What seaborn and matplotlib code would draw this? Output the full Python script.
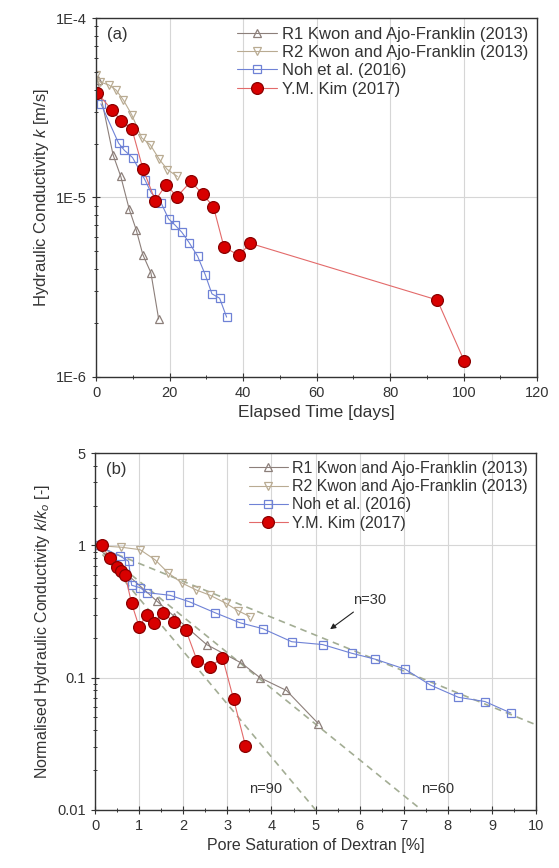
"""
Hydraulic conductivity decline with elapsed time (a) and with pore
saturation of dextran (b), comparing Kwon and Ajo-Franklin, Noh et al.
and Y.M. Kim data.
"""
import matplotlib
matplotlib.use("Agg")
import matplotlib.pyplot as plt
import matplotlib.ticker as mticker
import seaborn as sns

# ---- panel (a): hydraulic conductivity k [m/s] vs elapsed time [days]
r1_days = [0.4, 4.6, 6.7, 9.0, 10.9, 12.7, 14.9, 17.0]
r1_k = [4.5e-5, 1.73e-5, 1.31e-5, 8.6e-6, 6.6e-6, 4.8e-6, 3.8e-6, 2.1e-6]

r2_days = [0.0, 1.1, 3.4, 5.4, 7.4, 9.7, 12.4, 14.7, 17.2, 19.4, 22.1]
r2_k = [4.8e-5, 4.4e-5, 4.25e-5, 3.98e-5, 3.5e-5, 2.89e-5, 2.15e-5,
        1.97e-5, 1.63e-5, 1.43e-5, 1.31e-5]

noh_days = [1.3, 6.1, 7.7, 9.9, 13.3, 15.0, 17.7, 19.7, 21.5, 23.3, 25.3,
            27.6, 29.7, 31.5, 33.6, 35.5]
noh_k = [3.33e-5, 2.01e-5, 1.83e-5, 1.67e-5, 1.25e-5, 1.06e-5, 9.3e-6,
         7.6e-6, 7.0e-6, 6.4e-6, 5.6e-6, 4.7e-6, 3.7e-6, 2.9e-6, 2.74e-6,
         2.15e-6]

kim_days = [0.2, 4.3, 6.8, 9.7, 12.7, 16.1, 19.0, 22.0, 25.8, 29.0, 31.9,
            34.8, 38.9, 41.9, 92.8, 100.1]
kim_k = [3.85e-5, 3.08e-5, 2.68e-5, 2.42e-5, 1.45e-5, 9.6e-6, 1.18e-5,
         1.01e-5, 1.23e-5, 1.04e-5, 8.9e-6, 5.27e-6, 4.76e-6, 5.55e-6,
         2.68e-6, 1.23e-6]

# ---- panel (b): normalised conductivity k/k0 vs pore saturation [%]
r1_sat = [0.0, 1.4, 1.8, 2.53, 3.32, 3.74, 4.34, 5.06]
r1_norm = [1.0, 0.38, 0.29, 0.178, 0.129, 0.10, 0.08, 0.045]

r2_sat = [0.0, 0.6, 1.02, 1.36, 1.66, 1.97, 2.3, 2.61, 2.97, 3.25, 3.51]
r2_norm = [1.0, 0.97, 0.93, 0.78, 0.62, 0.52, 0.46, 0.42, 0.365, 0.32, 0.29]

noh_sat = [0.05, 0.57, 0.76, 0.83, 1.02, 1.17, 1.7, 2.14, 2.72, 3.29, 3.8,
           4.46, 5.16, 5.82, 6.35, 7.03, 7.6, 8.24, 8.84, 9.43]
noh_norm = [1.0, 0.83, 0.76, 0.50, 0.48, 0.44, 0.42, 0.375, 0.31, 0.26,
            0.235, 0.187, 0.178, 0.153, 0.138, 0.116, 0.088, 0.071, 0.066,
            0.054]

kim_sat = [0.15, 0.34, 0.49, 0.6, 0.68, 0.83, 1.0, 1.17, 1.34, 1.53, 1.79,
           2.06, 2.32, 2.61, 2.89, 3.14, 3.41]
kim_norm = [1.0, 0.80, 0.69, 0.64, 0.60, 0.365, 0.242, 0.30, 0.26, 0.31,
            0.265, 0.229, 0.133, 0.121, 0.142, 0.069, 0.0306]

# fitted trend lines (k/k0 = (1-S)^n), endpoints
fit_labels = ["n=30", "n=60", "n=90"]
fit_sat = [[0.0, 10.0], [0.0, 7.4], [0.0, 5.0]]
fit_norm = [[1.0, 0.044], [1.0, 0.01], [1.0, 0.01]]

legend_labels = ["R1 Kwon and Ajo-Franklin (2013)",
                 "R2 Kwon and Ajo-Franklin (2013)",
                 "Noh et al. (2016)",
                 "Y.M. Kim (2017)"]

C_R1 = "#8c7f7a"
C_R2 = "#b9ab92"
C_NOH = "#6f82d6"
C_KIM_LINE = "#e36a6a"
C_KIM = "#d80000"
C_FIT = "#a3ad94"
C_TXT = "#333333"

sns.set_theme(style="white")
plt.rcParams["font.family"] = ["Liberation Sans", "DejaVu Sans"]
plt.rcParams["mathtext.fontset"] = "custom"
plt.rcParams["mathtext.it"] = "Liberation Sans:italic"
plt.rcParams["mathtext.rm"] = "Liberation Sans"

fig = plt.figure(figsize=(5.59, 8.68), dpi=100)
ax_a = fig.add_axes([0.172, 0.566, 0.789, 0.413])
ax_b = fig.add_axes([0.170, 0.067, 0.789, 0.411])


def draw_series(ax, xs, ys, color, marker, label, face="none", ms=6,
                lc=None, mec=None):
    sns.lineplot(x=xs, y=ys, ax=ax, sort=False, estimator=None,
                 color=lc or color, lw=0.8, marker=marker, markersize=ms,
                 markerfacecolor=face, markeredgecolor=mec or color,
                 markeredgewidth=0.9, label=label)


def style_axis(ax):
    for side in ax.spines.values():
        side.set_color(C_TXT)
        side.set_linewidth(1.0)
    ax.tick_params(which="major", direction="inout", length=6, width=0.8,
                   color=C_TXT, labelsize=10.5, labelcolor=C_TXT,
                   left=True, bottom=True)
    ax.tick_params(which="minor", direction="inout", length=3.5, width=0.7,
                   color=C_TXT, left=True, bottom=True)
    ax.grid(True, which="major", color="#d6d6d6", lw=0.8)
    ax.grid(False, which="minor")


def style_legend(ax, size):
    leg = ax.legend(loc="upper right", frameon=False, fontsize=size,
                    handlelength=2.4, handletextpad=0.3, labelspacing=0.2,
                    borderaxespad=0.1)
    for txt in leg.get_texts():
        txt.set_color(C_TXT)


# ---- panel (a)
draw_series(ax_a, r1_days, r1_k, C_R1, "^", legend_labels[0])
draw_series(ax_a, r2_days, r2_k, C_R2, "v", legend_labels[1])
draw_series(ax_a, noh_days, noh_k, C_NOH, "s", legend_labels[2], ms=5.5)
draw_series(ax_a, kim_days, kim_k, C_KIM, "o", legend_labels[3],
            face=C_KIM, ms=8.5, lc=C_KIM_LINE, mec="#8a0000")
ax_a.set_yscale("log")
ax_a.set_xlim(0, 120)
ax_a.set_ylim(1e-6, 1e-4)
ax_a.xaxis.set_major_locator(mticker.MultipleLocator(20))
ax_a.xaxis.set_minor_locator(mticker.MultipleLocator(10))
ax_a.yaxis.set_major_locator(mticker.FixedLocator([1e-6, 1e-5, 1e-4]))
ax_a.yaxis.set_major_formatter(
    mticker.FixedFormatter(["1E-6", "1E-5", "1E-4"]))
ax_a.yaxis.set_minor_locator(
    mticker.LogLocator(base=10, subs=range(2, 10), numticks=20))
ax_a.yaxis.set_minor_formatter(mticker.NullFormatter())
style_axis(ax_a)
ax_a.set_xlabel("Elapsed Time [days]", fontsize=12.5, color=C_TXT,
                labelpad=4)
ax_a.set_ylabel("Hydraulic Conductivity $k$ [m/s]", fontsize=12,
                color=C_TXT, labelpad=4)
ax_a.text(0.025, 0.975, "(a)", transform=ax_a.transAxes, fontsize=12,
          va="top", color=C_TXT)
style_legend(ax_a, 12)

# ---- panel (b)
for lab, xs, ys in zip(fit_labels, fit_sat, fit_norm):
    ax_b.plot(xs, ys, color=C_FIT, lw=1.2, ls=(0, (4, 3)), zorder=1)
draw_series(ax_b, r1_sat, r1_norm, C_R1, "^", legend_labels[0])
draw_series(ax_b, r2_sat, r2_norm, C_R2, "v", legend_labels[1])
draw_series(ax_b, noh_sat, noh_norm, C_NOH, "s", legend_labels[2], ms=5.5)
draw_series(ax_b, kim_sat, kim_norm, C_KIM, "o", legend_labels[3],
            face=C_KIM, ms=8.5, lc=C_KIM_LINE, mec="#8a0000")
ax_b.set_yscale("log")
ax_b.set_xlim(0, 10)
ax_b.set_ylim(0.01, 5)
ax_b.xaxis.set_major_locator(mticker.MultipleLocator(1))
ax_b.xaxis.set_minor_locator(mticker.MultipleLocator(0.5))
ax_b.yaxis.set_major_locator(mticker.FixedLocator([0.01, 0.1, 1, 5]))
ax_b.yaxis.set_major_formatter(
    mticker.FixedFormatter(["0.01", "0.1", "1", "5"]))
ax_b.yaxis.set_minor_locator(
    mticker.LogLocator(base=10, subs=range(2, 10), numticks=20))
ax_b.yaxis.set_minor_formatter(mticker.NullFormatter())
style_axis(ax_b)
ax_b.set_xlabel("Pore Saturation of Dextran [%]", fontsize=11.5,
                color=C_TXT, labelpad=4)
ax_b.set_ylabel("Normalised Hydraulic Conductivity $k/k_o$ [-]",
                fontsize=11.5, color=C_TXT, labelpad=4)
ax_b.text(0.025, 0.975, "(b)", transform=ax_b.transAxes, fontsize=12,
          va="top", color=C_TXT)
ax_b.annotate("n=30", xy=(5.28, 0.226), xytext=(5.85, 0.36), fontsize=10.5,
              color=C_TXT,
              arrowprops=dict(arrowstyle="-|>", color="#222222", lw=0.8,
                              mutation_scale=8))
ax_b.text(3.5, 0.0135, "n=90", fontsize=10.5, color=C_TXT)
ax_b.text(7.4, 0.0135, "n=60", fontsize=10.5, color=C_TXT)
style_legend(ax_b, 11.5)

fig.savefig("out.png", dpi=100)
plt.close(fig)
